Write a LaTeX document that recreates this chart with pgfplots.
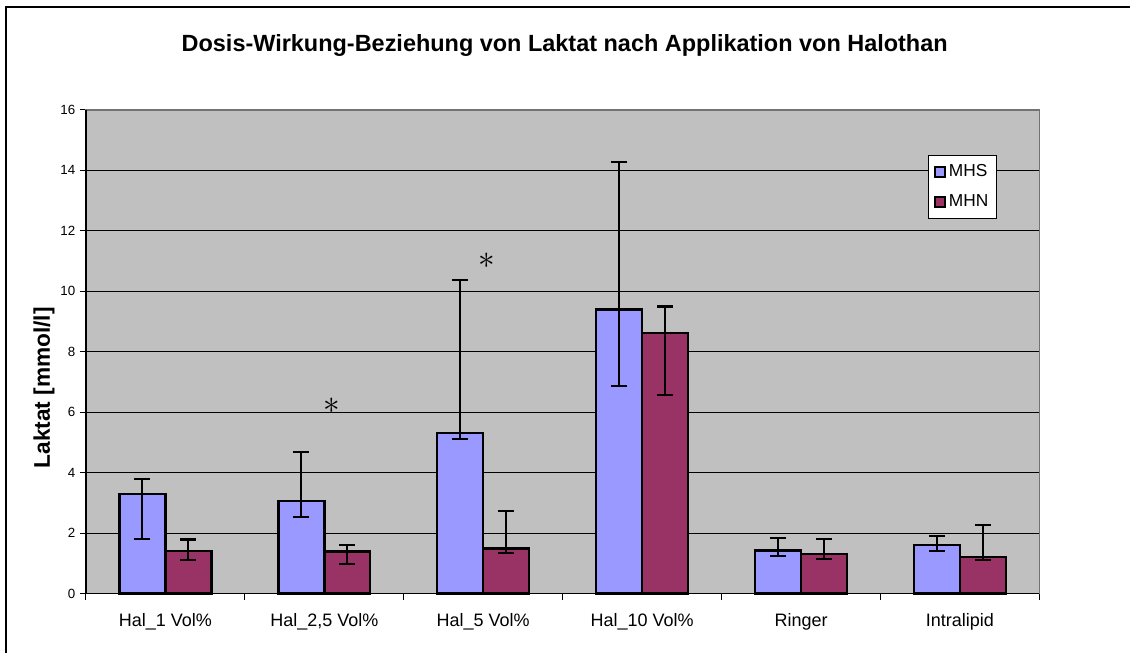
\documentclass[border=0pt]{standalone}
\usepackage{fontspec}
\setmainfont{Liberation Sans}
\usepackage{pgfplots}
\pgfplotsset{compat=1.18}

\definecolor{plotbg}{HTML}{C0C0C0}
\definecolor{mhs}{HTML}{9999FF}
\definecolor{mhn}{HTML}{993366}

% x, mean, error up, error down
\pgfplotstableread{
x y ep em
0 3.30 0.49 1.48
1 3.06 1.63 0.53
2 5.31 5.06 0.20
3 9.40 4.88 2.52
4 1.43 0.40 0.18
5 1.60 0.32 0.20
}\mhsdata
\pgfplotstableread{
x y ep em
0 1.42 0.37 0.31
1 1.39 0.21 0.40
2 1.50 1.22 0.16
3 8.62 0.88 2.04
4 1.32 0.49 0.16
5 1.22 1.05 0.10
}\mhndata

\begin{document}
\begin{tikzpicture}
% page area and chart frame
\path (-64.5pt,-44.25pt) rectangle (783.75pt,445.5pt);
\draw[black, line width=1pt] (-60pt,-44.25pt) -- (-60pt,440.25pt) -- (783.75pt,440.25pt);

\begin{axis}[
    at={(0,0)}, anchor=south west,
    scale only axis, width=715.5pt, height=363pt,
    ybar=0pt, bar width=34.5pt,
    xmin=-0.5, xmax=5.5, ymin=0, ymax=16,
    xtick={0,...,5},
    xticklabels={{Hal\_1 Vol\%}, {Hal\_2,5 Vol\%}, {Hal\_5 Vol\%}, {Hal\_10 Vol\%}, {Ringer}, {Intralipid}},
    minor xtick={-0.5,0.5,...,5.5},
    xtick pos=bottom, ytick pos=left,
    tick align=outside,
    major tick length=4.5pt, minor tick length=4.5pt,
    major x tick style={draw=none},
    minor x tick style={black, line width=0.75pt},
    ytick={0,2,...,16},
    ytick style={black, line width=0.75pt},
    ymajorgrids, grid style={black, line width=0.75pt},
    axis background/.style={fill=plotbg},
    axis line style={draw=gray!90!black, line width=1.2pt},
    /pgf/number format/assume math mode=true,
    yticklabel style={font=\fontsize{10}{12}\selectfont},
    xticklabel style={font=\fontsize{13.5}{16}\selectfont, yshift=-7pt},
    legend style={at={(0.8836,0.907)}, anchor=north west,
        font=\fontsize{13}{15}\selectfont, draw=black, line width=0.6pt,
        inner xsep=4pt, inner ysep=5pt, row sep=8pt, cells={anchor=west}},
    legend image code/.code={\draw[#1, draw=black, line width=1.5pt] (0pt,-3.8pt) rectangle (7.6pt,3.8pt);},
    clip=false,
]
\addplot[fill=mhs, draw=black, line width=1.8pt,
    error bars/.cd, y dir=both, y explicit,
    error bar style={line width=1.6pt},
    error mark options={rotate=90, mark size=6pt, line width=1.6pt}]
    table[x=x, y=y, y error plus=ep, y error minus=em] {\mhsdata};
\addlegendentry{MHS}
\addplot[fill=mhn, draw=black, line width=1.8pt,
    error bars/.cd, y dir=both, y explicit,
    error bar style={line width=1.6pt},
    error mark options={rotate=90, mark size=6pt, line width=1.6pt}]
    table[x=x, y=y, y error plus=ep, y error minus=em] {\mhndata};
\addlegendentry{MHN}
\draw[black, line width=1pt] (rel axis cs:0,0) -- (rel axis cs:0,1);
\draw[black, line width=1pt] (rel axis cs:0,0) -- (rel axis cs:1,0);
\node[font=\fontsize{28}{28}\selectfont] at (axis cs:1.047,6.2) {$\ast$};
\node[font=\fontsize{28}{28}\selectfont] at (axis cs:2.02,11.0) {$\ast$};
\end{axis}

\node[font=\bfseries\fontsize{17.6}{21}\selectfont] at (359.25pt,411pt)
    {Dosis-Wirkung-Beziehung von Laktat nach Applikation von Halothan};
\node[font=\bfseries\fontsize{17}{20}\selectfont, rotate=90] at (-31.5pt,154.5pt)
    {Laktat [mmol/l]};
\end{tikzpicture}
\end{document}
